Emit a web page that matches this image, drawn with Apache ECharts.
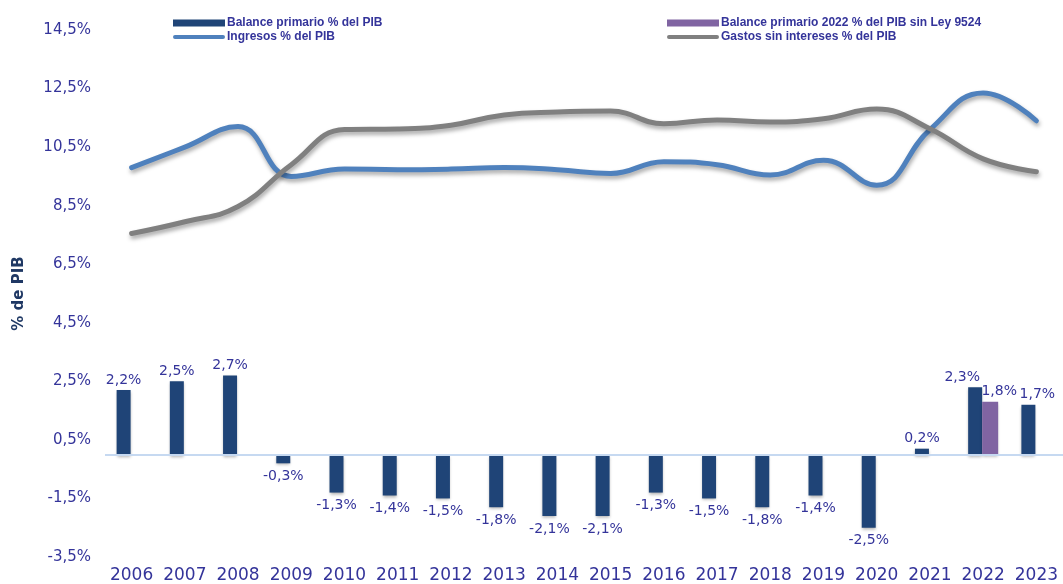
<!DOCTYPE html>
<html>
<head>
<meta charset="utf-8">
<script src="https://cdn.jsdelivr.net/npm/echarts@6/dist/echarts.min.js"></script>
<style>
  html, body { margin: 0; padding: 0; background: #fff; }
  #main { width: 1063px; height: 584px; }
</style>
</head>
<body>
<div id="main"></div>
<script>
// datos
const years = ["2006", "2007", "2008", "2009", "2010", "2011", "2012", "2013", "2014",
  "2015", "2016", "2017", "2018", "2019", "2020", "2021", "2022", "2023"];
const balance = [2.2, 2.5, 2.7, -0.3, -1.3, -1.4, -1.5, -1.8, -2.1, -2.1, -1.3, -1.5, -1.8, -1.4, -2.5, 0.2, 2.3, 1.7];
const balanceSinLey = [null, null, null, null, null, null, null, null, null, null, null, null, null, null, null, null, 1.8, null];
const ingresos = [9.8, 10.5, 11.2, 9.5, 9.75, 9.73, 9.75, 9.8, 9.73, 9.6, 10.0, 9.9, 9.55, 10.05, 9.2, 11.1, 12.35, 11.4];
const gastos = [7.55, 7.95, 8.47, 9.9, 11.1, 11.12, 11.25, 11.6, 11.7, 11.73, 11.3, 11.43, 11.36, 11.47, 11.8, 11.13, 10.1, 9.66];
const yTicks = [-3.5, -1.5, 0.5, 2.5, 4.5, 6.5, 8.5, 10.5, 12.5, 14.5];

const textColor = "#34349a";
const fmt = (v) => v.toFixed(1).replace(".", ",") + "%";

// icono de línea gruesa con extremos redondeados (con puntitos en las esquinas para fijar el tamaño)
const lineIcon = "path://M2,1.5 L50,1.5 A2,2 0 0 1 50,5.5 L2,5.5 A2,2 0 0 1 2,1.5 Z M0,0 L0.01,0 L0,0.01 Z M52,7 L51.99,7 L52,6.99 Z";

// etiquetas arriba o abajo según el signo
function barItems(arr) {
  return arr.map((v) => {
    if (v === null) return null;
    return v < 0
      ? { value: v, label: { position: "bottom", distance: 6 } }
      : { value: v, label: { position: "top", distance: 3 } };
  });
}

const balanceItems = barItems(balance);
const sinLeyItems = barItems(balanceSinLey);
// en 2022/2023 las etiquetas están corridas a los lados como en el original
balanceItems[16].label.offset = [-13, 0];
balanceItems[17].label.offset = [9, 0];
sinLeyItems[16].label.offset = [9, 0];

const Chart = echarts.init(document.getElementById("main"));

const legendText = { fontFamily: "Liberation Sans", fontWeight: "bold", fontSize: 12, color: textColor, lineHeight: 14, padding: [0, 0, 0, -3] };
const barLabel = { show: true, color: textColor, fontSize: 14, formatter: (p) => fmt(p.value) };

const options = {
  animation: false,
  textStyle: { fontFamily: "DejaVu Sans" },
  grid: { left: 105, right: -8, top: 30, bottom: 23 },
  legend: [
    {
      left: 168,
      top: 11,
      orient: "vertical",
      itemGap: 0,
      itemWidth: 52,
      itemHeight: 7,
      data: [
        { name: "Balance primario % del PIB", icon: "rect" },
        { name: "Ingresos % del PIB", icon: lineIcon },
      ],
      textStyle: legendText,
    },
    {
      left: 662,
      top: 11,
      orient: "vertical",
      itemGap: 0,
      itemWidth: 52,
      itemHeight: 7,
      data: [
        { name: "Balance primario 2022 % del PIB sin Ley 9524", icon: "rect" },
        { name: "Gastos sin intereses % del PIB", icon: lineIcon },
      ],
      textStyle: legendText,
    },
  ],
  xAxis: {
    type: "category",
    data: years,
    axisLine: { show: false },
    axisTick: { show: false },
    axisLabel: { color: textColor, fontSize: 17, margin: 10, interval: 0 },
  },
  yAxis: {
    type: "value",
    min: -3.5,
    max: 14.5,
    name: "% de PIB",
    nameLocation: "middle",
    nameGap: 78,
    nameTextStyle: { color: "#1f3864", fontWeight: "bold", fontSize: 15 },
    splitLine: { show: false },
    axisLine: { show: false },
    axisTick: { show: false },
    axisLabel: {
      color: textColor,
      fontSize: 15,
      margin: 14,
      customValues: yTicks,
      formatter: fmt,
    },
  },
  series: [
    {
      name: "Balance primario % del PIB",
      type: "bar",
      data: balanceItems,
      barWidth: 14,
      barGap: "0%",
      itemStyle: {
        color: "#1f4477",
        shadowColor: "rgba(0,0,0,0.3)",
        shadowBlur: 3,
        shadowOffsetY: 2,
      },
      label: barLabel,
      markLine: {
        silent: true,
        symbol: "none",
        label: { show: false },
        lineStyle: { color: "#c6d9f1", width: 2, type: "solid" },
        data: [{ yAxis: 0 }],
      },
      z: 2,
    },
    {
      name: "Balance primario 2022 % del PIB sin Ley 9524",
      type: "bar",
      data: sinLeyItems,
      barWidth: 16,
      itemStyle: {
        color: "#8064a2",
        shadowColor: "rgba(0,0,0,0.3)",
        shadowBlur: 3,
        shadowOffsetY: 2,
      },
      label: barLabel,
      z: 2,
    },
    {
      name: "Ingresos % del PIB",
      type: "line",
      data: ingresos,
      smooth: 0.45,
      symbol: "none",
      lineStyle: {
        color: "#4f81bd",
        width: 5,
        cap: "round",
        shadowColor: "rgba(0,0,0,0.35)",
        shadowBlur: 4,
        shadowOffsetX: 1,
        shadowOffsetY: 3,
      },
      itemStyle: { color: "#4f81bd" },
      z: 3,
    },
    {
      name: "Gastos sin intereses % del PIB",
      type: "line",
      data: gastos,
      smooth: 0.45,
      symbol: "none",
      lineStyle: {
        color: "#808080",
        width: 5,
        cap: "round",
        shadowColor: "rgba(0,0,0,0.35)",
        shadowBlur: 4,
        shadowOffsetX: 1,
        shadowOffsetY: 3,
      },
      itemStyle: { color: "#808080" },
      z: 3,
    },
  ],
};

Chart.setOption(options);
</script>
</body>
</html>
